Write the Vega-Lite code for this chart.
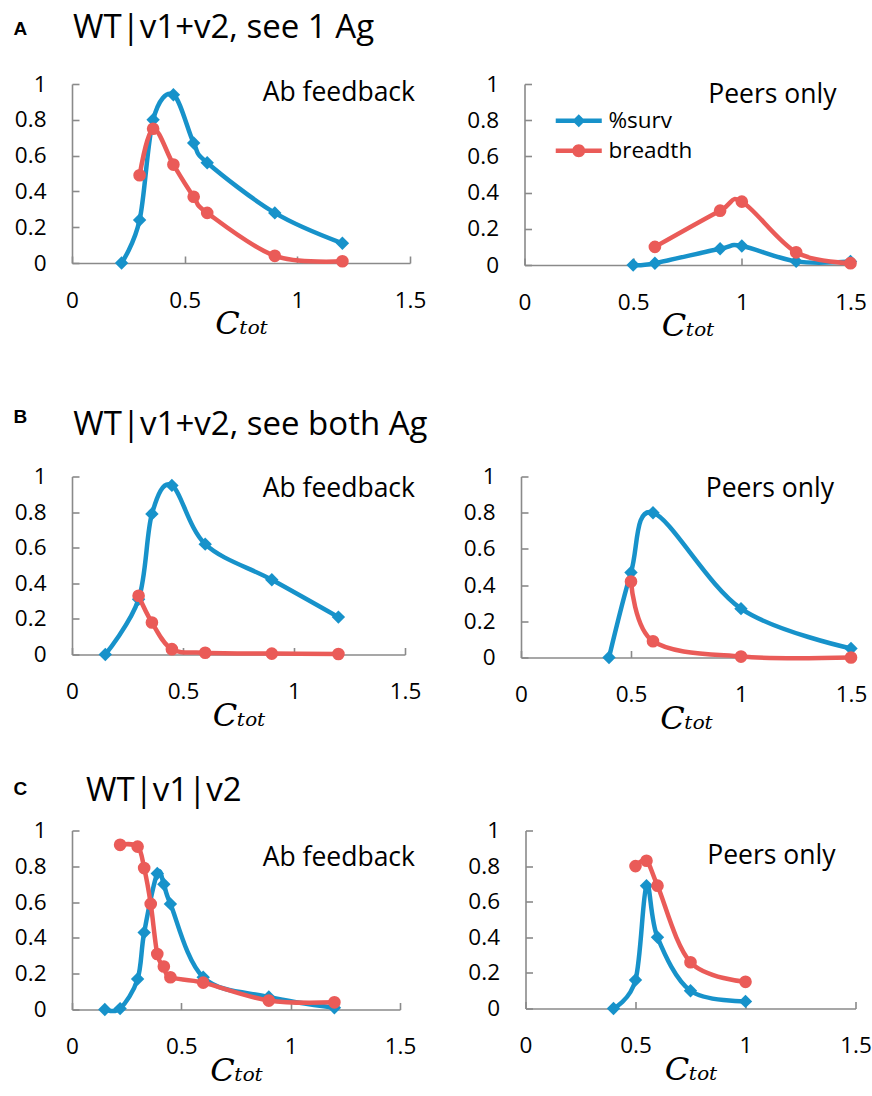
{
  "$schema": "https://vega.github.io/schema/vega-lite/v6.json",
  "padding": {"left": 12, "top": 12, "right": 4, "bottom": 4},
  "config": {
    "view": {"stroke": null},
    "font": "Open Sans",
    "axis": {"domainColor": "#8a8a8a", "domainWidth": 1.6, "tickColor": "#8a8a8a", "tickWidth": 1.6, "tickSize": -7, "labelPadding": 33, "labelFont": "Open Sans", "labelFontSize": 22.5, "labelColor": "#000000", "grid": false, "labelFlush": false},
    "title": {"font": "Open Sans", "color": "#000000", "fontWeight": "normal"}
  },
  "datasets": {
    "pts": [
      {"panel": "A1", "series": "%surv", "ctot": 0.22, "value": 0},
      {"panel": "A1", "series": "%surv", "ctot": 0.3, "value": 0.24},
      {"panel": "A1", "series": "%surv", "ctot": 0.36, "value": 0.8},
      {"panel": "A1", "series": "%surv", "ctot": 0.45, "value": 0.94},
      {"panel": "A1", "series": "%surv", "ctot": 0.54, "value": 0.67},
      {"panel": "A1", "series": "%surv", "ctot": 0.6, "value": 0.56},
      {"panel": "A1", "series": "%surv", "ctot": 0.9, "value": 0.28},
      {"panel": "A1", "series": "%surv", "ctot": 1.2, "value": 0.11},
      {"panel": "A1", "series": "breadth", "ctot": 0.3, "value": 0.49},
      {"panel": "A1", "series": "breadth", "ctot": 0.36, "value": 0.75},
      {"panel": "A1", "series": "breadth", "ctot": 0.45, "value": 0.55},
      {"panel": "A1", "series": "breadth", "ctot": 0.54, "value": 0.37},
      {"panel": "A1", "series": "breadth", "ctot": 0.6, "value": 0.28},
      {"panel": "A1", "series": "breadth", "ctot": 0.9, "value": 0.04},
      {"panel": "A1", "series": "breadth", "ctot": 1.2, "value": 0.01},
      {"panel": "A2", "series": "%surv", "ctot": 0.5, "value": 0},
      {"panel": "A2", "series": "%surv", "ctot": 0.6, "value": 0.01},
      {"panel": "A2", "series": "%surv", "ctot": 0.9, "value": 0.09},
      {"panel": "A2", "series": "%surv", "ctot": 1.0, "value": 0.105},
      {"panel": "A2", "series": "%surv", "ctot": 1.25, "value": 0.02},
      {"panel": "A2", "series": "%surv", "ctot": 1.5, "value": 0.02},
      {"panel": "A2", "series": "breadth", "ctot": 0.6, "value": 0.1},
      {"panel": "A2", "series": "breadth", "ctot": 0.9, "value": 0.3},
      {"panel": "A2", "series": "breadth", "ctot": 1.0, "value": 0.35},
      {"panel": "A2", "series": "breadth", "ctot": 1.25, "value": 0.07},
      {"panel": "A2", "series": "breadth", "ctot": 1.5, "value": 0.01},
      {"panel": "B1", "series": "%surv", "ctot": 0.15, "value": 0},
      {"panel": "B1", "series": "%surv", "ctot": 0.3, "value": 0.31},
      {"panel": "B1", "series": "%surv", "ctot": 0.36, "value": 0.79},
      {"panel": "B1", "series": "%surv", "ctot": 0.45, "value": 0.95},
      {"panel": "B1", "series": "%surv", "ctot": 0.6, "value": 0.62},
      {"panel": "B1", "series": "%surv", "ctot": 0.9, "value": 0.42},
      {"panel": "B1", "series": "%surv", "ctot": 1.2, "value": 0.21},
      {"panel": "B1", "series": "breadth", "ctot": 0.3, "value": 0.33},
      {"panel": "B1", "series": "breadth", "ctot": 0.36, "value": 0.18},
      {"panel": "B1", "series": "breadth", "ctot": 0.45, "value": 0.03},
      {"panel": "B1", "series": "breadth", "ctot": 0.6, "value": 0.01},
      {"panel": "B1", "series": "breadth", "ctot": 0.9, "value": 0.005},
      {"panel": "B1", "series": "breadth", "ctot": 1.2, "value": 0.003},
      {"panel": "B2", "series": "%surv", "ctot": 0.4, "value": 0},
      {"panel": "B2", "series": "%surv", "ctot": 0.5, "value": 0.47},
      {"panel": "B2", "series": "%surv", "ctot": 0.6, "value": 0.8},
      {"panel": "B2", "series": "%surv", "ctot": 1.0, "value": 0.27},
      {"panel": "B2", "series": "%surv", "ctot": 1.5, "value": 0.05},
      {"panel": "B2", "series": "breadth", "ctot": 0.5, "value": 0.42},
      {"panel": "B2", "series": "breadth", "ctot": 0.6, "value": 0.09},
      {"panel": "B2", "series": "breadth", "ctot": 1.0, "value": 0.005},
      {"panel": "B2", "series": "breadth", "ctot": 1.5, "value": 0},
      {"panel": "C1", "series": "%surv", "ctot": 0.15, "value": 0},
      {"panel": "C1", "series": "%surv", "ctot": 0.22, "value": 0.005},
      {"panel": "C1", "series": "%surv", "ctot": 0.3, "value": 0.17},
      {"panel": "C1", "series": "%surv", "ctot": 0.33, "value": 0.43},
      {"panel": "C1", "series": "%surv", "ctot": 0.39, "value": 0.76},
      {"panel": "C1", "series": "%surv", "ctot": 0.42, "value": 0.7},
      {"panel": "C1", "series": "%surv", "ctot": 0.45, "value": 0.59},
      {"panel": "C1", "series": "%surv", "ctot": 0.6, "value": 0.18},
      {"panel": "C1", "series": "%surv", "ctot": 0.9, "value": 0.07},
      {"panel": "C1", "series": "%surv", "ctot": 1.2, "value": 0.01},
      {"panel": "C1", "series": "breadth", "ctot": 0.22, "value": 0.92},
      {"panel": "C1", "series": "breadth", "ctot": 0.3, "value": 0.91},
      {"panel": "C1", "series": "breadth", "ctot": 0.33, "value": 0.79},
      {"panel": "C1", "series": "breadth", "ctot": 0.36, "value": 0.59},
      {"panel": "C1", "series": "breadth", "ctot": 0.39, "value": 0.31},
      {"panel": "C1", "series": "breadth", "ctot": 0.42, "value": 0.24},
      {"panel": "C1", "series": "breadth", "ctot": 0.45, "value": 0.18},
      {"panel": "C1", "series": "breadth", "ctot": 0.6, "value": 0.15},
      {"panel": "C1", "series": "breadth", "ctot": 0.9, "value": 0.05},
      {"panel": "C1", "series": "breadth", "ctot": 1.2, "value": 0.04},
      {"panel": "C2", "series": "%surv", "ctot": 0.4, "value": 0},
      {"panel": "C2", "series": "%surv", "ctot": 0.5, "value": 0.16},
      {"panel": "C2", "series": "%surv", "ctot": 0.55, "value": 0.69},
      {"panel": "C2", "series": "%surv", "ctot": 0.6, "value": 0.4},
      {"panel": "C2", "series": "%surv", "ctot": 0.75, "value": 0.1},
      {"panel": "C2", "series": "%surv", "ctot": 1.0, "value": 0.04},
      {"panel": "C2", "series": "breadth", "ctot": 0.5, "value": 0.8},
      {"panel": "C2", "series": "breadth", "ctot": 0.55, "value": 0.83},
      {"panel": "C2", "series": "breadth", "ctot": 0.6, "value": 0.69},
      {"panel": "C2", "series": "breadth", "ctot": 0.75, "value": 0.26},
      {"panel": "C2", "series": "breadth", "ctot": 1.0, "value": 0.15}
    ]
  },
  "resolve": {"scale": {"color": "independent", "shape": "independent"}},
  "spacing": 65.5,
  "vconcat": [
    {
      "title": {"text": "A", "anchor": "start", "frame": "bounds", "font": "Liberation Sans", "fontWeight": "bold", "fontSize": 19, "offset": -26.7, "dx": 1.5},
      "resolve": {"scale": {"color": "independent", "shape": "independent"}},
      "vconcat": [
        {
          "title": {"text": "WT|v1+v2, see 1 Ag", "anchor": "start", "frame": "bounds", "fontSize": 33, "offset": 27.75, "dx": 61},
          "resolve": {"scale": {"color": "independent", "shape": "independent"}},
          "spacing": 40.5,
          "hconcat": [
            {
              "width": 338, "height": 179,
              "data": {"name": "pts"},
              "transform": [{"filter": "datum.panel === 'A1'"}],
              "title": {"text": "Ab feedback", "anchor": "end", "frame": "group", "fontSize": 26.5, "offset": -33, "dx": 5},
              "encoding": {
                "x": {"field": "ctot", "type": "quantitative", "scale": {"domain": [0, 1.5], "nice": false, "zero": false}, "axis": {"values": [0, 0.5, 1, 1.5], "format": "~g", "title": "Cₜₒₜ", "titleFont": "DejaVu Serif", "titleFontStyle": "italic", "titleFontSize": 32, "titleFontWeight": "normal", "titleColor": "#000000", "titlePadding": -3}},
                "y": {"field": "value", "type": "quantitative", "scale": {"domain": [0, 1], "nice": false}, "axis": {"values": [0, 0.2, 0.4, 0.6, 0.8, 1], "format": "~g", "title": null, "minExtent": 60}}
              },
              "layer": [
                {"transform": [{"filter": "datum.series === '%surv'"}], "mark": {"type": "line", "interpolate": "cardinal", "color": "#1792CA", "strokeWidth": 4.5}},
                {"transform": [{"filter": "datum.series === '%surv'"}], "mark": {"type": "point", "shape": "diamond", "filled": true, "color": "#1792CA", "size": 180, "opacity": 1}},
                {"transform": [{"filter": "datum.series === 'breadth'"}], "mark": {"type": "line", "interpolate": "cardinal", "color": "#EA5B58", "strokeWidth": 4.5}},
                {"transform": [{"filter": "datum.series === 'breadth'"}], "mark": {"type": "point", "shape": "circle", "filled": true, "color": "#EA5B58", "size": 160, "opacity": 1}}
              ]
            },
            {
              "width": 326, "height": 181,
              "data": {"name": "pts"},
              "transform": [{"filter": "datum.panel === 'A2'"}],
              "title": {"text": "Peers only", "anchor": "end", "frame": "group", "fontSize": 26.5, "offset": -35, "dx": -14},
              "encoding": {
                "x": {"field": "ctot", "type": "quantitative", "scale": {"domain": [0, 1.5], "nice": false, "zero": false}, "axis": {"values": [0, 0.5, 1, 1.5], "format": "~g", "title": "Cₜₒₜ", "titleFont": "DejaVu Serif", "titleFontStyle": "italic", "titleFontSize": 32, "titleFontWeight": "normal", "titleColor": "#000000", "titlePadding": -3}},
                "y": {"field": "value", "type": "quantitative", "scale": {"domain": [0, 1], "nice": false}, "axis": {"values": [0, 0.2, 0.4, 0.6, 0.8, 1], "format": "~g", "title": null, "minExtent": 58}}
              },
              "layer": [
                {"transform": [{"filter": "datum.series === '%surv'"}], "mark": {"type": "line", "interpolate": "cardinal", "color": "#1792CA", "strokeWidth": 4.5}},
                {"transform": [{"filter": "datum.series === '%surv'"}], "mark": {"type": "point", "shape": "diamond", "filled": true, "color": "#1792CA", "size": 180, "opacity": 1}},
                {"transform": [{"filter": "datum.series === 'breadth'"}], "mark": {"type": "line", "interpolate": "cardinal", "color": "#EA5B58", "strokeWidth": 4.5}},
                {"transform": [{"filter": "datum.series === 'breadth'"}], "mark": {"type": "point", "shape": "circle", "filled": true, "color": "#EA5B58", "size": 160, "opacity": 1}},
                {
                  "mark": {"type": "point", "filled": true, "size": 0, "opacity": 1},
                  "encoding": {
                    "color": {"field": "series", "type": "nominal", "scale": {"domain": ["%surv", "breadth"], "range": ["#1792CA", "#EA5B58"]}, "legend": {"title": null, "orient": "none", "legendX": 43, "legendY": 25.5, "symbolSize": 169, "labelFont": "Open Sans", "labelFontSize": 22.5, "labelColor": "#000000", "labelOffset": 18.5, "rowPadding": 7, "padding": 0, "symbolStrokeWidth": 0, "symbolOpacity": 1}},
                    "shape": {"field": "series", "type": "nominal", "scale": {"domain": ["%surv", "breadth"], "range": ["M-3.54,-0.33H3.54V0.33H-3.54Z M0,-1L1,0L0,1L-1,0Z", "M-3.54,-0.33H3.54V0.33H-3.54Z M1,0A1,1,0,1,1,-1,0A1,1,0,1,1,1,0Z"]}, "legend": {"title": null, "orient": "none", "legendX": 43, "legendY": 25.5, "symbolSize": 169, "labelFont": "Open Sans", "labelFontSize": 22.5, "labelColor": "#000000", "labelOffset": 18.5, "rowPadding": 7, "padding": 0, "symbolStrokeWidth": 0, "symbolOpacity": 1}}
                  }
                }
              ]
            }
          ]
        }
      ]
    },
    {
      "resolve": {"scale": {"color": "independent", "shape": "independent"}},
      "spacing": 40,
      "vconcat": [
        {
          "title": {"text": "B", "anchor": "start", "frame": "bounds", "font": "Liberation Sans", "fontWeight": "bold", "fontSize": 19, "offset": -18.3, "dx": 1.5},
          "resolve": {"scale": {"color": "independent", "shape": "independent"}},
          "vconcat": [
            {
              "title": {"text": "WT|v1+v2, see both Ag", "anchor": "start", "frame": "bounds", "fontSize": 33, "offset": 24, "dx": 61.3},
              "resolve": {"scale": {"color": "independent", "shape": "independent"}},
              "spacing": 42,
              "hconcat": [
                {
                  "width": 333, "height": 178,
                  "data": {"name": "pts"},
                  "transform": [{"filter": "datum.panel === 'B1'"}],
                  "title": {"text": "Ab feedback", "anchor": "end", "frame": "group", "fontSize": 26.5, "offset": -37.25, "dx": 10},
                  "encoding": {
                    "x": {"field": "ctot", "type": "quantitative", "scale": {"domain": [0, 1.5], "nice": false, "zero": false}, "axis": {"values": [0, 0.5, 1, 1.5], "format": "~g", "title": "Cₜₒₜ", "titleFont": "DejaVu Serif", "titleFontStyle": "italic", "titleFontSize": 32, "titleFontWeight": "normal", "titleColor": "#000000", "titlePadding": -3}},
                    "y": {"field": "value", "type": "quantitative", "scale": {"domain": [0, 1], "nice": false}, "axis": {"values": [0, 0.2, 0.4, 0.6, 0.8, 1], "format": "~g", "title": null, "minExtent": 60}}
                  },
                  "layer": [
                    {"transform": [{"filter": "datum.series === '%surv'"}], "mark": {"type": "line", "interpolate": "cardinal", "color": "#1792CA", "strokeWidth": 4.5}},
                    {"transform": [{"filter": "datum.series === '%surv'"}], "mark": {"type": "point", "shape": "diamond", "filled": true, "color": "#1792CA", "size": 180, "opacity": 1}},
                    {"transform": [{"filter": "datum.series === 'breadth'"}], "mark": {"type": "line", "interpolate": "cardinal", "color": "#EA5B58", "strokeWidth": 4.5}},
                    {"transform": [{"filter": "datum.series === 'breadth'"}], "mark": {"type": "point", "shape": "circle", "filled": true, "color": "#EA5B58", "size": 160, "opacity": 1}}
                  ]
                },
                {
                  "width": 330, "height": 181,
                  "data": {"name": "pts"},
                  "transform": [{"filter": "datum.panel === 'B2'"}],
                  "title": {"text": "Peers only", "anchor": "end", "frame": "group", "fontSize": 26.5, "offset": -37.25, "dx": -17},
                  "encoding": {
                    "x": {"field": "ctot", "type": "quantitative", "scale": {"domain": [0, 1.5], "nice": false, "zero": false}, "axis": {"values": [0, 0.5, 1, 1.5], "format": "~g", "title": "Cₜₒₜ", "titleFont": "DejaVu Serif", "titleFontStyle": "italic", "titleFontSize": 32, "titleFontWeight": "normal", "titleColor": "#000000", "titlePadding": -3}},
                    "y": {"field": "value", "type": "quantitative", "scale": {"domain": [0, 1], "nice": false}, "axis": {"values": [0, 0.2, 0.4, 0.6, 0.8, 1], "format": "~g", "title": null, "minExtent": 58}}
                  },
                  "layer": [
                    {"transform": [{"filter": "datum.series === '%surv'"}], "mark": {"type": "line", "interpolate": "cardinal", "color": "#1792CA", "strokeWidth": 4.5}},
                    {"transform": [{"filter": "datum.series === '%surv'"}], "mark": {"type": "point", "shape": "diamond", "filled": true, "color": "#1792CA", "size": 180, "opacity": 1}},
                    {"transform": [{"filter": "datum.series === 'breadth'"}], "mark": {"type": "line", "interpolate": "cardinal", "color": "#EA5B58", "strokeWidth": 4.5}},
                    {"transform": [{"filter": "datum.series === 'breadth'"}], "mark": {"type": "point", "shape": "circle", "filled": true, "color": "#EA5B58", "size": 160, "opacity": 1}}
                  ]
                }
              ]
            }
          ]
        },
        {
          "title": {"text": "C", "anchor": "start", "frame": "bounds", "font": "Liberation Sans", "fontWeight": "bold", "fontSize": 19, "offset": -24.7, "dx": 1.5},
          "resolve": {"scale": {"color": "independent", "shape": "independent"}},
          "vconcat": [
            {
              "title": {"text": "WT|v1|v2", "anchor": "start", "frame": "bounds", "fontSize": 33, "offset": 12, "dx": 74},
              "resolve": {"scale": {"color": "independent", "shape": "independent"}},
              "spacing": 51.5,
              "hconcat": [
                {
                  "width": 328, "height": 179,
                  "data": {"name": "pts"},
                  "transform": [{"filter": "datum.panel === 'C1'"}],
                  "title": {"text": "Ab feedback", "anchor": "end", "frame": "group", "fontSize": 26.5, "offset": -52.25, "dx": 15},
                  "encoding": {
                    "x": {"field": "ctot", "type": "quantitative", "scale": {"domain": [0, 1.5], "nice": false, "zero": false}, "axis": {"values": [0, 0.5, 1, 1.5], "format": "~g", "title": "Cₜₒₜ", "titleFont": "DejaVu Serif", "titleFontStyle": "italic", "titleFontSize": 32, "titleFontWeight": "normal", "titleColor": "#000000", "titlePadding": -3}},
                    "y": {"field": "value", "type": "quantitative", "scale": {"domain": [0, 1], "nice": false}, "axis": {"values": [0, 0.2, 0.4, 0.6, 0.8, 1], "format": "~g", "title": null, "minExtent": 60}}
                  },
                  "layer": [
                    {"transform": [{"filter": "datum.series === '%surv'"}], "mark": {"type": "line", "interpolate": "cardinal", "color": "#1792CA", "strokeWidth": 4.5}},
                    {"transform": [{"filter": "datum.series === '%surv'"}], "mark": {"type": "point", "shape": "diamond", "filled": true, "color": "#1792CA", "size": 180, "opacity": 1}},
                    {"transform": [{"filter": "datum.series === 'breadth'"}], "mark": {"type": "line", "interpolate": "cardinal", "color": "#EA5B58", "strokeWidth": 4.5}},
                    {"transform": [{"filter": "datum.series === 'breadth'"}], "mark": {"type": "point", "shape": "circle", "filled": true, "color": "#EA5B58", "size": 160, "opacity": 1}}
                  ]
                },
                {
                  "width": 330, "height": 178,
                  "data": {"name": "pts"},
                  "transform": [{"filter": "datum.panel === 'C2'"}],
                  "title": {"text": "Peers only", "anchor": "end", "frame": "group", "fontSize": 26.5, "offset": -50.25, "dx": -20},
                  "encoding": {
                    "x": {"field": "ctot", "type": "quantitative", "scale": {"domain": [0, 1.5], "nice": false, "zero": false}, "axis": {"values": [0, 0.5, 1, 1.5], "format": "~g", "title": "Cₜₒₜ", "titleFont": "DejaVu Serif", "titleFontStyle": "italic", "titleFontSize": 32, "titleFontWeight": "normal", "titleColor": "#000000", "titlePadding": -3}},
                    "y": {"field": "value", "type": "quantitative", "scale": {"domain": [0, 1], "nice": false}, "axis": {"values": [0, 0.2, 0.4, 0.6, 0.8, 1], "format": "~g", "title": null, "minExtent": 58}}
                  },
                  "layer": [
                    {"transform": [{"filter": "datum.series === '%surv'"}], "mark": {"type": "line", "interpolate": "cardinal", "color": "#1792CA", "strokeWidth": 4.5}},
                    {"transform": [{"filter": "datum.series === '%surv'"}], "mark": {"type": "point", "shape": "diamond", "filled": true, "color": "#1792CA", "size": 180, "opacity": 1}},
                    {"transform": [{"filter": "datum.series === 'breadth'"}], "mark": {"type": "line", "interpolate": "cardinal", "color": "#EA5B58", "strokeWidth": 4.5}},
                    {"transform": [{"filter": "datum.series === 'breadth'"}], "mark": {"type": "point", "shape": "circle", "filled": true, "color": "#EA5B58", "size": 160, "opacity": 1}}
                  ]
                }
              ]
            }
          ]
        }
      ]
    }
  ]
}
